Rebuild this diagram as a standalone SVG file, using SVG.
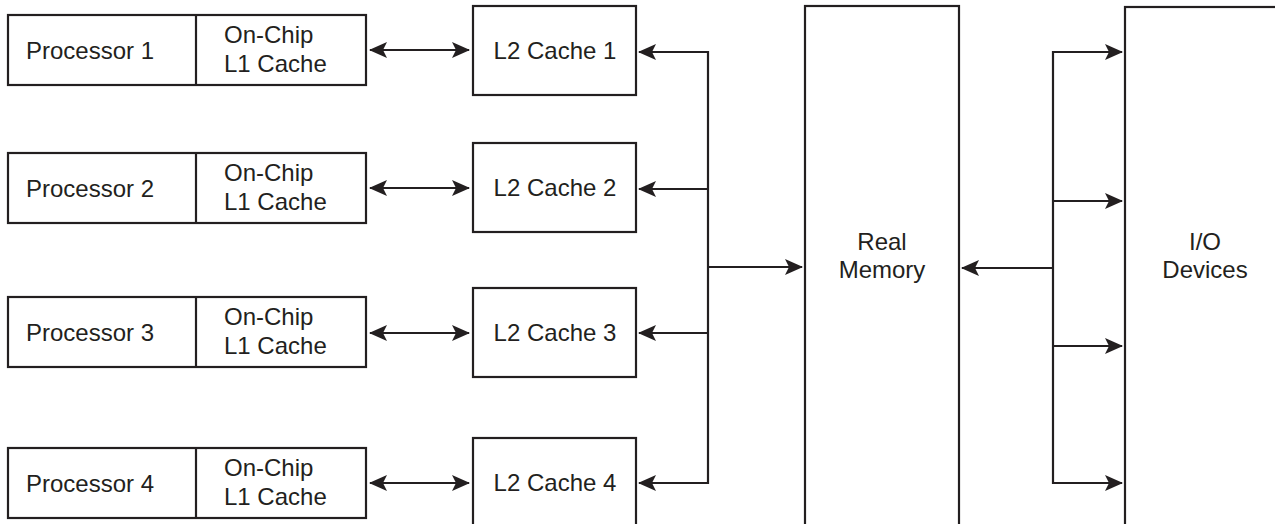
<svg xmlns="http://www.w3.org/2000/svg" width="1275" height="524" viewBox="0 0 1275 524">
<style>
.box{fill:#fff;stroke:#231f20;stroke-width:2.2}
.ln{fill:none;stroke:#231f20;stroke-width:2.2}
text{font-family:"Liberation Sans",Arial,sans-serif;font-size:24px;fill:#231f20}
.c{text-anchor:middle}
</style>
<defs>
<marker id="ah" viewBox="0 0 18 16" refX="17" refY="8" markerWidth="18" markerHeight="16" markerUnits="userSpaceOnUse" orient="auto-start-reverse">
<path d="M0,0 L18,8 L0,16 L4,8 Z" fill="#231f20"/>
</marker>
</defs>
<g id="proc1"><rect class="box" x="8" y="15" width="358" height="70"/><line class="ln" x1="196" y1="15" x2="196" y2="85"/><text x="26" y="59">Processor 1</text><text x="224" y="43">On-Chip</text><text x="224" y="72">L1 Cache</text></g>
<g id="proc2"><rect class="box" x="8" y="153" width="358" height="70"/><line class="ln" x1="196" y1="153" x2="196" y2="223"/><text x="26" y="197">Processor 2</text><text x="224" y="181">On-Chip</text><text x="224" y="210">L1 Cache</text></g>
<g id="proc3"><rect class="box" x="8" y="297" width="358" height="70"/><line class="ln" x1="196" y1="297" x2="196" y2="367"/><text x="26" y="341">Processor 3</text><text x="224" y="325">On-Chip</text><text x="224" y="354">L1 Cache</text></g>
<g id="proc4"><rect class="box" x="8" y="448" width="358" height="70"/><line class="ln" x1="196" y1="448" x2="196" y2="518"/><text x="26" y="492">Processor 4</text><text x="224" y="476">On-Chip</text><text x="224" y="505">L1 Cache</text></g>
<g id="l2c1"><rect class="box" x="473" y="6" width="163" height="89"/><text class="c" x="555" y="59">L2 Cache 1</text></g>
<g id="l2c2"><rect class="box" x="473" y="143" width="163" height="89"/><text class="c" x="555" y="196">L2 Cache 2</text></g>
<g id="l2c3"><rect class="box" x="473" y="288" width="163" height="89"/><text class="c" x="555" y="341">L2 Cache 3</text></g>
<g id="l2c4"><rect class="box" x="473" y="438" width="163" height="95"/><text class="c" x="555" y="491">L2 Cache 4</text></g>
<g id="mem"><rect class="box" x="805" y="6" width="154" height="530"/><text class="c" x="882" y="250">Real</text><text class="c" x="882" y="278">Memory</text></g>
<g id="io"><rect class="box" x="1125" y="7" width="170" height="530"/><text class="c" x="1205" y="250">I/O</text><text class="c" x="1205" y="278">Devices</text></g>
<g id="connectors">
<line class="ln" x1="370" y1="50" x2="469" y2="50" marker-start="url(#ah)" marker-end="url(#ah)"/>
<line class="ln" x1="370" y1="188" x2="469" y2="188" marker-start="url(#ah)" marker-end="url(#ah)"/>
<line class="ln" x1="370" y1="333" x2="469" y2="333" marker-start="url(#ah)" marker-end="url(#ah)"/>
<line class="ln" x1="370" y1="483" x2="469" y2="483" marker-start="url(#ah)" marker-end="url(#ah)"/>
<line class="ln" x1="708" y1="51" x2="708" y2="484"/>
<line class="ln" x1="709" y1="52" x2="639" y2="52" marker-end="url(#ah)"/>
<line class="ln" x1="709" y1="189" x2="639" y2="189" marker-end="url(#ah)"/>
<line class="ln" x1="709" y1="333" x2="639" y2="333" marker-end="url(#ah)"/>
<line class="ln" x1="709" y1="483" x2="639" y2="483" marker-end="url(#ah)"/>
<line class="ln" x1="708" y1="267" x2="802" y2="267" marker-end="url(#ah)"/>
<line class="ln" x1="1053" y1="51" x2="1053" y2="484"/>
<line class="ln" x1="1054" y1="268" x2="962" y2="268" marker-end="url(#ah)"/>
<line class="ln" x1="1052" y1="52" x2="1122" y2="52" marker-end="url(#ah)"/>
<line class="ln" x1="1052" y1="201" x2="1122" y2="201" marker-end="url(#ah)"/>
<line class="ln" x1="1052" y1="346" x2="1122" y2="346" marker-end="url(#ah)"/>
<line class="ln" x1="1052" y1="483" x2="1122" y2="483" marker-end="url(#ah)"/>
</g>
</svg>
